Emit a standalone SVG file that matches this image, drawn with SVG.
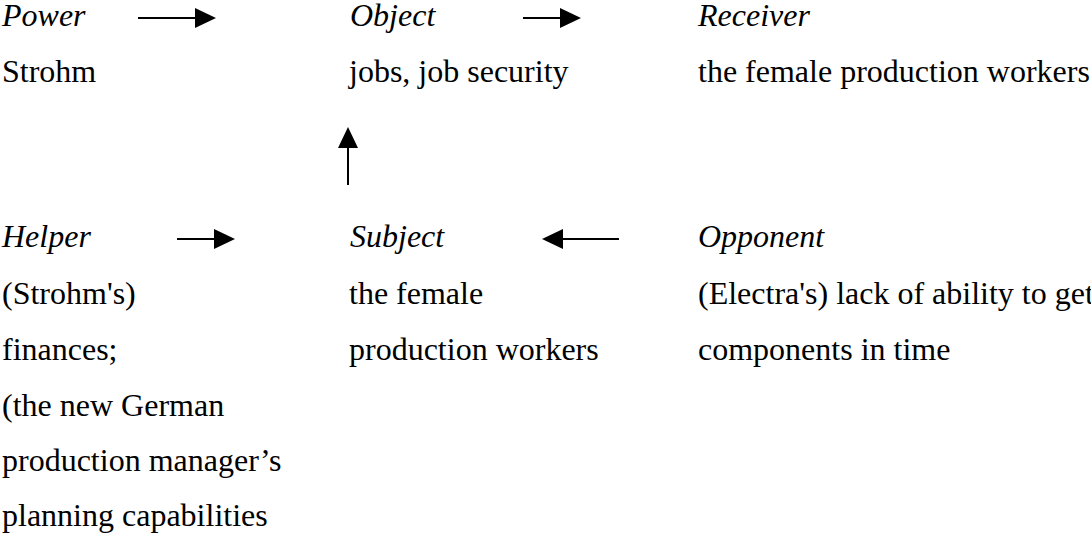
<svg xmlns="http://www.w3.org/2000/svg" width="1091" height="535" viewBox="0 0 1091 535">
  <style>
    text { font-family: "Liberation Serif", "Times New Roman", serif; font-size: 32px; fill: #000; }
    .role { font-style: italic; }
    .link { stroke: #000; stroke-width: 2; fill: none; }
  </style>
  <defs>
    <marker id="head" viewBox="0 0 10 10" refX="10" refY="5" markerWidth="10" markerHeight="10" markerUnits="userSpaceOnUse" orient="auto">
      <path d="M0,0 L10,5 L0,10 Z" fill="#000"/>
    </marker>
  </defs>
  <rect width="1091" height="535" fill="#fff"/>

  <g id="power">
    <text class="role" x="2" y="26">Power</text>
    <text x="2" y="82">Strohm</text>
  </g>
  <g id="object">
    <text class="role" x="350" y="26">Object</text>
    <text x="349" y="82">jobs, job security</text>
  </g>
  <g id="receiver">
    <text class="role" x="698" y="26">Receiver</text>
    <text x="698" y="82">the female production workers</text>
  </g>
  <g id="helper">
    <text class="role" x="2" y="247">Helper</text>
    <text x="2" y="304">(Strohm's)</text>
    <text x="2" y="360">finances;</text>
    <text x="2" y="416">(the new German</text>
    <text x="2" y="471">production manager’s</text>
    <text x="2" y="526">planning capabilities</text>
  </g>
  <g id="subject">
    <text class="role" x="350" y="247">Subject</text>
    <text x="349" y="304">the female</text>
    <text x="349" y="360">production workers</text>
  </g>
  <g id="opponent">
    <text class="role" x="698" y="247">Opponent</text>
    <text x="698" y="304">(Electra's) lack of ability to get</text>
    <text x="698" y="360">components in time</text>
  </g>

  <g id="connectors">
    <line class="link" x1="138" y1="18" x2="195" y2="18"/>
    <path d="M195,8 L216,18 L195,28 Z" fill="#000"/>
    <line class="link" x1="523" y1="18" x2="560" y2="18"/>
    <path d="M560,8 L581,18 L560,28 Z" fill="#000"/>
    <line class="link" x1="177" y1="239" x2="214" y2="239"/>
    <path d="M214,229 L235,239 L214,249 Z" fill="#000"/>
    <line class="link" x1="619" y1="239" x2="563" y2="239"/>
    <path d="M563,229 L542,239 L563,249 Z" fill="#000"/>
    <line class="link" x1="348" y1="185" x2="348" y2="148"/>
    <path d="M338,148 L348,127 L358,148 Z" fill="#000"/>
  </g>
</svg>
